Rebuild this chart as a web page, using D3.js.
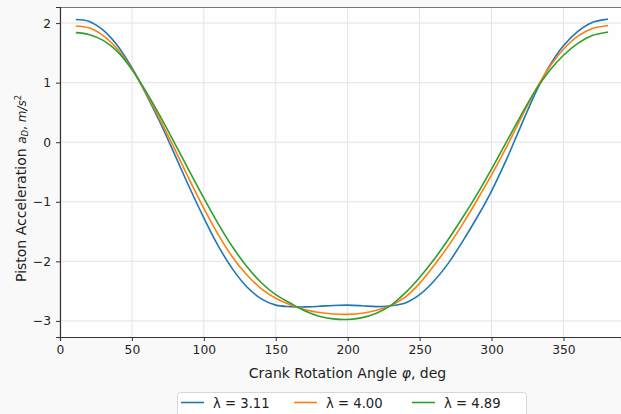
<!DOCTYPE html>
<html><head><meta charset="utf-8">
<script src="https://cdn.jsdelivr.net/npm/d3@7"></script>
<style>
html,body{margin:0;padding:0;background:#f9f9f9;}
svg{display:block;font-family:"DejaVu Sans",sans-serif;}
</style></head>
<body><svg id="c" width="621" height="414"></svg>
<script>
const angles = [11,20,30,40,50,60,70,80,90,100,110,120,130,140,150,160,170,180,190,200,210,220,230,240,250,260,270,280,290,300,310,320,330,340,350,360,370,380,381];
const lambda311 = [2.06,2.03,1.88,1.62,1.25,0.80,0.31,-0.22,-0.76,-1.27,-1.74,-2.13,-2.43,-2.63,-2.735,-2.76,-2.765,-2.755,-2.74,-2.735,-2.745,-2.76,-2.745,-2.70,-2.56,-2.33,-2.03,-1.66,-1.26,-0.82,-0.31,0.25,0.80,1.27,1.62,1.86,2.01,2.065,2.07];
const lambda400 = [1.95,1.92,1.79,1.56,1.23,0.82,0.36,-0.13,-0.63,-1.11,-1.55,-1.93,-2.23,-2.46,-2.62,-2.73,-2.81,-2.86,-2.885,-2.89,-2.87,-2.82,-2.74,-2.60,-2.37,-2.07,-1.74,-1.37,-0.97,-0.55,-0.10,0.38,0.85,1.25,1.56,1.78,1.91,1.955,1.96];
const lambda489 = [1.84,1.81,1.71,1.52,1.22,0.84,0.42,-0.03,-0.49,-0.94,-1.37,-1.76,-2.09,-2.36,-2.56,-2.70,-2.83,-2.92,-2.965,-2.975,-2.945,-2.87,-2.74,-2.53,-2.27,-1.97,-1.63,-1.26,-0.87,-0.45,-0.01,0.43,0.85,1.19,1.46,1.66,1.79,1.845,1.85];
const seriesNames = ["λ = 3.11","λ = 4.00","λ = 4.89"];
const seriesColors = ["#1f77b4","#ff7f0e","#2ca02c"];
const xTicks = [0,50,100,150,200,250,300,350];
const yTicks = [-3,-2,-1,0,1,2];

const svg = d3.select("#c");
const L=60, R=621, T=7, B=337;
const x = d3.scaleLinear().domain([0,390]).range([L,R]);
const y = d3.scaleLinear().domain([-3.27,2.27]).range([B,T]);

svg.append("rect").attr("x",L).attr("y",T).attr("width",R-L).attr("height",B-T).attr("fill","#fefefe");

// grid
const g = svg.append("g");
g.selectAll(".vx").data(xTicks).join("line")
 .attr("x1",d=>x(d)).attr("x2",d=>x(d)).attr("y1",T).attr("y2",B)
 .attr("stroke","#e3e3e3").attr("stroke-width",1);
g.selectAll(".hy").data(yTicks).join("line")
 .attr("x1",L).attr("x2",R).attr("y1",d=>y(d)).attr("y2",d=>y(d))
 .attr("stroke","#e3e3e3").attr("stroke-width",1);

// lines
const series=[lambda311,lambda400,lambda489];
const line = d3.line().x(d=>x(d[0])).y(d=>y(d[1])).curve(d3.curveCatmullRom.alpha(0.5));
series.forEach((s,i)=>{
  svg.append("path").datum(angles.map((a,j)=>[a,s[j]]))
   .attr("d",line).attr("fill","none").attr("stroke",seriesColors[i]).attr("stroke-width",1.6);
});

// spines
svg.append("line").attr("x1",L).attr("x2",R).attr("y1",T+0.5).attr("y2",T+0.5).attr("stroke","#777").attr("stroke-width",1.2);

const xa = svg.append("g").attr("transform",`translate(0,${B})`)
 .call(d3.axisBottom(x).tickValues(xTicks).tickSize(4).tickPadding(4).tickFormat(d3.format("d")));
const ya = svg.append("g").attr("transform",`translate(${L},0)`)
 .call(d3.axisLeft(y).tickValues(yTicks).tickSize(4).tickPadding(5).tickFormat(d3.format("d")));
[xa,ya].forEach(a=>{
  a.select(".domain").attr("stroke","#333").attr("stroke-width",1.2);
  a.selectAll(".tick line").attr("stroke","#333");
  a.selectAll(".tick text").attr("fill","#222").attr("font-size","12.3px").attr("font-family","DejaVu Sans");
});

// labels
svg.append("text").attr("x",347.5).attr("y",378).attr("text-anchor","middle")
 .attr("font-size","14px").attr("fill","#222")
 .html('Crank Rotation Angle <tspan font-style="italic">φ</tspan>, deg');

svg.append("text").attr("transform","translate(25.5,282) rotate(-90)").attr("text-anchor","start")
 .attr("font-size","14px").attr("fill","#222")
 .html('Piston Acceleration <tspan font-style="italic" font-size="12px">a</tspan><tspan font-style="italic" font-size="8.5px" dy="2">D</tspan><tspan font-size="12px" dy="-2">, </tspan><tspan font-style="italic" font-size="12px">m/s</tspan><tspan font-size="8.5px" dy="-5">2</tspan>');

// legend
const lg = svg.append("g");
lg.append("rect").attr("x",177.5).attr("y",392.5).attr("width",349).attr("height",30).attr("rx",3)
 .attr("fill","#ffffff").attr("stroke","#d6d6d6");
const lx=[181,294,412];
seriesNames.forEach((n,i)=>{
  lg.append("line").attr("x1",lx[i]).attr("x2",lx[i]+23).attr("y1",402.5).attr("y2",402.5)
    .attr("stroke",seriesColors[i]).attr("stroke-width",1.6);
  lg.append("text").attr("x",lx[i]+32).attr("y",407.5).attr("font-size","13.2px").attr("fill","#222").text(n);
});
</script></body></html>
